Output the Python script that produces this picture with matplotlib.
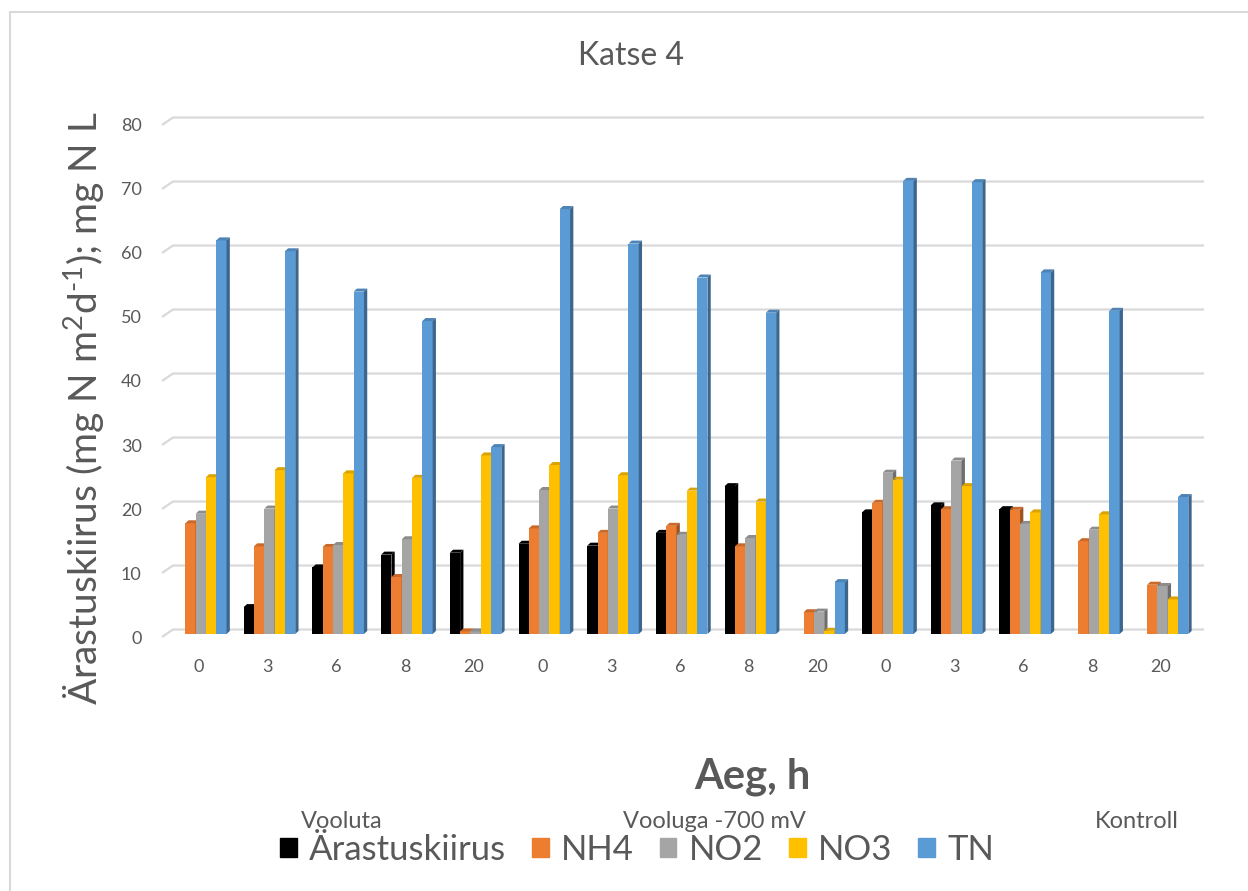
import numpy as np
import matplotlib.pyplot as plt
from matplotlib.patches import Polygon, Patch, Rectangle
from matplotlib.colors import to_rgb

plt.rcParams['font.family'] = ['Lato', 'DejaVu Sans']
plt.rcParams['mathtext.default'] = 'regular'

# categories: three set-ups, five sampling times each
groups = ["Vooluta", "Vooluga -700 mV", "Kontroll"]
hours = ["0", "3", "6", "8", "20"]

nan = np.nan
arastus = [nan, 4.2, 10.4, 12.4, 12.7,
           14.1, 13.8, 15.8, 23.1, nan,
           19.0, 20.1, 19.5, nan, nan]
nh4 = [17.3, 13.7, 13.6, 8.9, 0.4,
       16.5, 15.8, 16.9, 13.7, 3.4,
       20.5, 19.5, 19.4, 14.5, 7.7]
no2 = [18.8, 19.6, 13.9, 14.8, 0.4,
       22.5, 19.6, 15.5, 15.0, 3.5,
       25.2, 27.1, 17.2, 16.3, 7.5]
no3 = [24.5, 25.6, 25.1, 24.4, 27.9,
       26.4, 24.8, 22.4, 20.7, 0.5,
       24.1, 23.1, 19.0, 18.7, 5.4]
tn = [61.5, 59.8, 53.5, 48.9, 29.2,
      66.4, 61.0, 55.7, 50.2, 8.1,
      70.8, 70.6, 56.5, 50.5, 21.4]

series = [("Ärastuskiirus", arastus, "#000000"),
          ("NH4", nh4, "#ED7D31"),
          ("NO2", no2, "#A5A5A5"),
          ("NO3", no3, "#FFC000"),
          ("TN", tn, "#5B9BD5")]

TXT = "#595959"
GRID = "#D9D9D9"

W, H = 1248, 891
fig = plt.figure(figsize=(W / 100, H / 100), dpi=100)
fig.patches.append(Rectangle((10 / W, -0.1), 1.2, 1 - 12 / H + 0.1,
                             transform=fig.transFigure, fill=False,
                             edgecolor=GRID, lw=1.5))

ax = fig.add_axes([150 / W, (H - 637) / H, 1065 / W, 512 / H])
ax.set_xlim(-0.713, 14.789)
ax.set_ylim(0, 80)
for s in ax.spines.values():
    s.set_visible(False)

# back-wall gridlines with the short floor diagonal at the left
dy_wall = 1.17
for v in range(0, 81, 10):
    ax.plot([-0.539, -0.378, 14.63], [v, v + dy_wall, v + dy_wall],
            color=GRID, lw=1.6, zorder=1, clip_on=False,
            solid_capstyle="butt")

x = np.arange(len(tn))
bw = 0.150
base = 0.47
dx, dy = 0.048, 0.47


def shade(c, f):
    r, g, b = to_rgb(c)
    return (r * f, g * f, b * f)


for k, (name, vals, col) in enumerate(series):
    pos = x + (k - 2) * bw + 0.026
    bars = ax.bar(pos, vals, bw, bottom=base, color=col, lw=0,
                  zorder=2 + k * 3)
    for r in bars:
        h = r.get_height()
        if not np.isfinite(h):
            continue
        xl = r.get_x()
        xr = xl + r.get_width()
        top = r.get_y() + h
        ax.add_patch(Polygon([(xl, top), (xl + dx, top + dy),
                              (xr + dx, top + dy), (xr, top)],
                             closed=True, fc=shade(col, 0.85), lw=0,
                             zorder=3 + k * 3, clip_on=False))
        ax.add_patch(Polygon([(xr, r.get_y()), (xr + dx, r.get_y() + dy),
                              (xr + dx, top + dy), (xr, top)],
                             closed=True, fc=shade(col, 0.66), lw=0,
                             zorder=3 + k * 3, clip_on=False))

ax.set_yticks(range(0, 81, 10))
ax.set_xticks(x)
ax.set_xticklabels(hours * len(groups))
ax.tick_params(axis="y", length=0, pad=6, labelsize=13, labelcolor=TXT)
ax.tick_params(axis="x", length=0, pad=16, labelsize=13, labelcolor=TXT)

fig.text(631 / W, 1 - 56 / H, "Katse 4", ha="center", va="center",
         fontsize=23, color=TXT)
fig.text(84 / W, 1 - 408 / H,
         "Ärastuskiirus (mg N m$^{2}$d$^{\u2010 1}$); mg N L",
         rotation=90, ha="center", va="center", fontsize=28, color=TXT)
fig.text(752 / W, 1 - 777 / H, "Aeg, h", ha="center", va="center",
         fontsize=30, fontweight="bold", color=TXT)

for gx, g in zip([342, 714, 1137], groups):
    fig.text(gx / W, 1 - 822 / H, g, ha="center", va="center",
             fontsize=17, color=TXT)

handles = [Patch(color=c, label=n) for n, _, c in series]
fig.legend(handles=handles, loc="center", ncol=5,
           bbox_to_anchor=(637 / W, 1 - 850 / H), frameon=False,
           fontsize=25, labelcolor=TXT, handlelength=0.48, handleheight=0.48,
           handletextpad=0.35, columnspacing=0.75, borderaxespad=0)

fig.savefig("out.png", dpi=100)
